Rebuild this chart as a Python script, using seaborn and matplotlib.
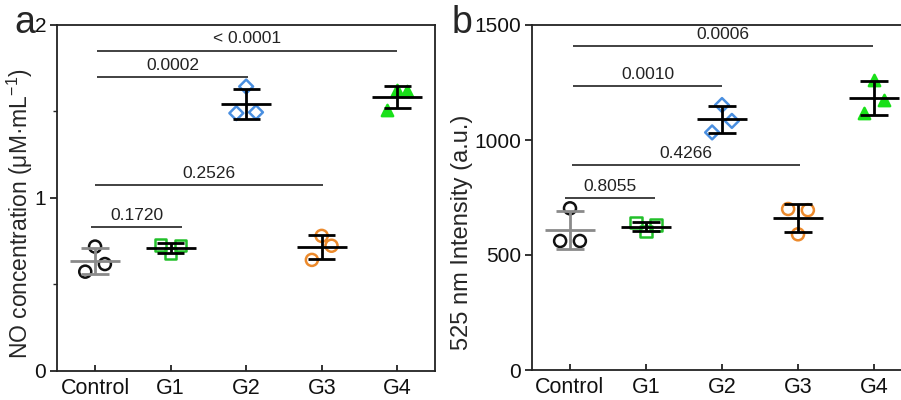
import numpy as np
import pandas as pd
import matplotlib
matplotlib.use("Agg")
import matplotlib.pyplot as plt
import seaborn as sns

# ---------------- data ----------------
categories = ["Control", "G1", "G2", "G3", "G4"]

# panel a: NO concentration (three replicates each: left, centre, right)
no_control = [0.573, 0.718, 0.617]
no_g1 = [0.727, 0.679, 0.723]
no_g2 = [1.490, 1.644, 1.495]
no_g3 = [0.641, 0.780, 0.723]
no_g4 = [1.509, 1.624, 1.619]

# panel b: 525 nm intensity
int_control = [561, 703, 561]
int_g1 = [640, 601, 630]
int_g2 = [1033, 1152, 1083]
int_g3 = [700, 590, 695]
int_g4 = [1116, 1261, 1174]

# significance brackets: (start category, end category, height, label)
a_brackets = [(-0.05, 1.15, 0.83, "0.1720"),
              (0.0, 3.02, 1.075, "0.2526"),
              (0.03, 2.03, 1.70, "0.0002"),
              (0.03, 4.0, 1.852, "< 0.0001")]
b_brackets = [(-0.07, 1.12, 748, "0.8055"),
              (0.03, 3.03, 891, "0.4266"),
              (0.04, 2.0, 1235, "0.0010"),
              (0.04, 3.99, 1409, "0.0006")]

a_ticks = [0, 1, 2]
b_ticks = [0, 500, 1000, 1500]

# ---------------- style ----------------
sns.set_style("ticks")
plt.rcParams["font.family"] = ["Liberation Sans", "DejaVu Sans"]
plt.rcParams["mathtext.fontset"] = "custom"
plt.rcParams["mathtext.rm"] = "Liberation Sans"
plt.rcParams["mathtext.it"] = "Liberation Sans:italic"
plt.rcParams["mathtext.bf"] = "Liberation Sans:bold"

colors = ["#111111", "#22c02a", "#4a8fe0", "#ec8a2c", "#19e019"]
markers = ["o", "s", "D", "o", "^"]
filled = [False, False, False, False, True]
sizes = [75, 66, 50, 75, 66]
err_colors = ["#8a8a8a", "black", "black", "black", "black"]
offsets = [-0.13, 0.0, 0.13]

fig = plt.figure(figsize=(9.01, 4.0), dpi=100)
ax_a = fig.add_axes([57.3 / 901, 29.3 / 400, 377.7 / 901, 345.7 / 400])
ax_b = fig.add_axes([532.0 / 901, 30.0 / 400, 380.0 / 901, 345.0 / 400])


def draw_panel(ax, groups, brackets, ylim, yticks, ylabel, minor=None):
    for i, vals in enumerate(groups):
        vals = np.asarray(vals, dtype=float)
        df = pd.DataFrame({"x": [i + o for o in offsets], "y": vals})
        kw = dict(marker=markers[i], s=sizes[i], linewidth=1.8, zorder=3)
        if filled[i]:
            kw.update(color=colors[i], edgecolor=colors[i])
        else:
            kw.update(facecolor="none", edgecolor=colors[i])
        sns.scatterplot(data=df, x="x", y="y", ax=ax, legend=False, **kw)
        m = vals.mean()
        sd = vals.std(ddof=1)
        ec = err_colors[i]
        ax.hlines(m, i - 0.33, i + 0.33, color=ec, lw=2.0, zorder=4)
        ax.vlines(i, m - sd, m + sd, color=ec, lw=2.0, zorder=4)
        ax.hlines([m - sd, m + sd], i - 0.18, i + 0.18, color=ec, lw=2.0, zorder=4)
    for x0, x1, h, lab in brackets:
        ax.plot([x0, x1], [h, h], color="#333333", lw=1.3, solid_capstyle="butt")
        ax.annotate(lab, xy=((x0 + x1) / 2, h), xytext=(0, 3),
                    textcoords="offset points", ha="center", va="bottom",
                    fontsize=12.5, color="#222222")
    ax.set_xlim(-0.5, 4.5)
    ax.set_ylim(*ylim)
    ax.set_xticks(range(len(categories)))
    ax.set_xticklabels(categories)
    ax.set_yticks(yticks)
    if minor is not None:
        ax.set_yticks(minor, minor=True)
    ax.set_xlabel("")
    ax.set_ylabel(ylabel)
    ax.tick_params(axis="x", direction="in", length=4, width=1.2,
                   labelsize=15.5, pad=5, colors="#111111")
    ax.tick_params(axis="y", which="major", direction="out", length=5,
                   width=1.2, labelsize=15, pad=3, colors="#111111")
    ax.tick_params(axis="y", which="minor", direction="out", length=3,
                   width=1.0)
    for sp in ax.spines.values():
        sp.set_visible(True)
        sp.set_linewidth(1.3)
        sp.set_color("#222222")


draw_panel(ax_a, [no_control, no_g1, no_g2, no_g3, no_g4], a_brackets,
           (0, 2), a_ticks, "NO concentration (μM·mL$^{-1}$)", minor=[0.5, 1.5])
draw_panel(ax_b, [int_control, int_g1, int_g2, int_g3, int_g4], b_brackets,
           (0, 1500), b_ticks, "525 nm Intensity (a.u.)")

ax_a.yaxis.label.set_size(16.5)
ax_b.yaxis.label.set_size(17)
ax_a.yaxis.set_label_coords(-0.059, 0.455)
ax_b.yaxis.set_label_coords(-0.156, 0.40)

fig.text(14 / 901, 1 - 33 / 400, "a", fontsize=27, va="baseline", ha="left")
fig.text(452 / 901, 1 - 33 / 400, "b", fontsize=27, va="baseline", ha="left")

fig.savefig("out.png", dpi=100)
